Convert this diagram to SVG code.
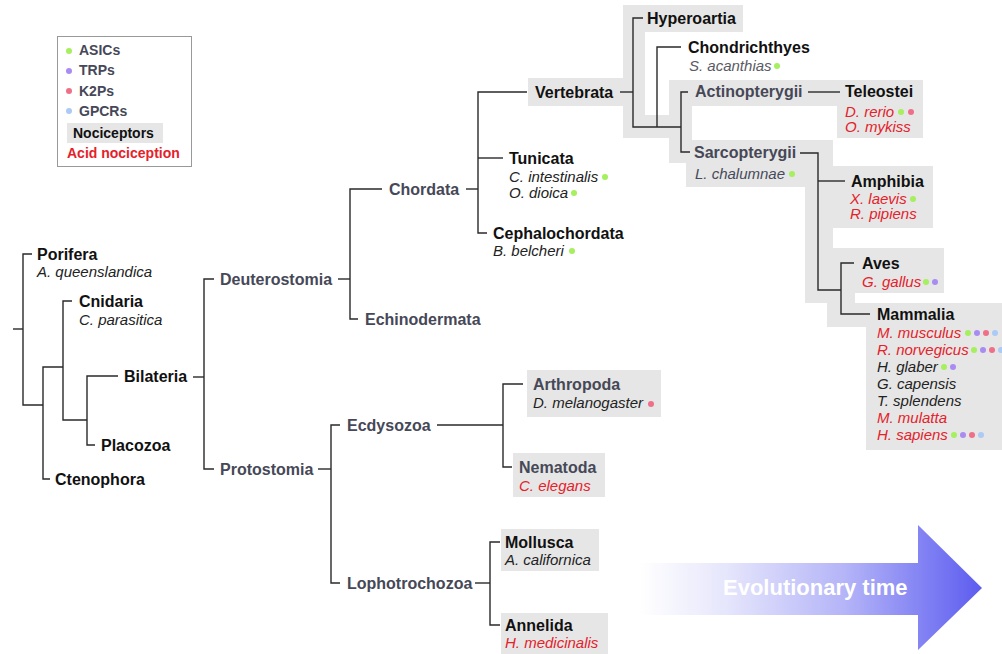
<svg xmlns="http://www.w3.org/2000/svg" width="1002" height="654" viewBox="0 0 1002 654">
<defs>
<style>
.b{font:bold 16px "Liberation Sans",Arial,sans-serif;fill:#111}
.s{font:bold 16px "Liberation Sans",Arial,sans-serif;fill:#464857}
.i{font:italic 15px "Liberation Sans",Arial,sans-serif;fill:#222}
.ig{font:italic 15px "Liberation Sans",Arial,sans-serif;fill:#5a5a64}
.is{font:italic 15px "Liberation Sans",Arial,sans-serif;fill:#474a5a}
.r{font:italic 15px "Liberation Sans",Arial,sans-serif;fill:#e5212a}
.lg{font:bold 14px "Liberation Sans",Arial,sans-serif;fill:#464857}
.lb{font:bold 14px "Liberation Sans",Arial,sans-serif;fill:#111}
.lr{font:bold 14px "Liberation Sans",Arial,sans-serif;fill:#e5212a}
.bg{fill:#e6e6e6}
.ln{stroke:#2a2a2a;stroke-width:1.4;fill:none}
.da{fill:#a6ef5e}.dt{fill:#a98cf2}.dk{fill:#ef6f88}.dg{fill:#abcaf5}
</style>
<linearGradient id="grad" gradientUnits="userSpaceOnUse" x1="640" y1="0" x2="982" y2="0">
<stop offset="0" stop-color="#ffffff"/>
<stop offset="0.25" stop-color="#e6e6fc"/>
<stop offset="0.6" stop-color="#b4b4f8"/>
<stop offset="1" stop-color="#5c5cf0"/>
</linearGradient>
</defs>
<rect width="1002" height="654" fill="#fff"/>

<g id="vertebrate-background">
<rect class="bg" x="528" y="78" width="95" height="28"/>
<rect class="bg" x="623" y="5" width="120" height="27"/>
<rect class="bg" x="623" y="5" width="22" height="133"/>
<rect class="bg" x="623" y="115" width="69" height="23"/>
<rect class="bg" x="669" y="80" width="254" height="26"/>
<rect class="bg" x="837" y="80" width="86" height="58"/>
<rect class="bg" x="669" y="80" width="23" height="60"/>
<rect class="bg" x="669" y="140" width="164" height="23"/>
<rect class="bg" x="686" y="163" width="119" height="24"/>
<rect class="bg" x="805" y="140" width="28" height="163"/>
<rect class="bg" x="833" y="166" width="100" height="62"/>
<rect class="bg" x="833" y="248" width="111" height="45"/>
<rect class="bg" x="805" y="293" width="50" height="10"/>
<rect class="bg" x="827" y="303" width="175" height="24"/>
<rect class="bg" x="866" y="303" width="136" height="147"/>
</g>

<g id="legend">
<rect x="57.5" y="36.5" width="134" height="130" fill="#fff" stroke="#999" stroke-width="1"/>
<circle class="da" cx="69" cy="51" r="3"/><text class="lg" x="79" y="55">ASICs</text>
<circle class="dt" cx="69" cy="71" r="3"/><text class="lg" x="79" y="75">TRPs</text>
<circle class="dk" cx="69" cy="91" r="3"/><text class="lg" x="79" y="96">K2Ps</text>
<circle class="dg" cx="69" cy="111" r="3"/><text class="lg" x="79" y="116">GPCRs</text>
<rect class="bg" x="67" y="123" width="96" height="20"/>
<text class="lb" x="73" y="138">Nociceptors</text>
<text class="lr" x="67" y="158">Acid nociception</text>
</g>

<g id="connectors">
<path class="ln" d="M13,329 H23"/>
<path class="ln" d="M32,254 H23 V405 H43"/>
<path class="ln" d="M50,479 H43 V367 H63"/>
<path class="ln" d="M72,301 H63 V420 H87"/>
<path class="ln" d="M118,376 H87 V445 H95"/>
<path class="ln" d="M193,377 H204"/>
<path class="ln" d="M214,279 H204 V469 H214"/>
<path class="ln" d="M338,279 H350"/>
<path class="ln" d="M382,189 H350 V319 H358"/>
<path class="ln" d="M466,189 H478"/>
<path class="ln" d="M527,92 H478 V233 H487"/>
<path class="ln" d="M478,158 H503"/>
<path class="ln" d="M620,92 H633"/>
<path class="ln" d="M643,18 H633 V127 H681"/>
<path class="ln" d="M681,47 H657 V127"/>
<path class="ln" d="M688,92 H681 V152 H690"/>
<path class="ln" d="M808,92 H840"/>
<path class="ln" d="M800,153 H818 V290 H841"/>
<path class="ln" d="M845,181 H818"/>
<path class="ln" d="M854,263 H841 V314 H870"/>
<path class="ln" d="M318,469 H331"/>
<path class="ln" d="M340,425 H331 V583 H340"/>
<path class="ln" d="M437,425 H503"/>
<path class="ln" d="M523,384 H503 V467 H512"/>
<path class="ln" d="M475,583 H490"/>
<path class="ln" d="M500,542 H490 V625 H500"/>
</g>

<g id="porifera"><text class="b" x="37" y="260">Porifera</text><text class="i" x="37" y="277">A. queenslandica</text></g>
<g id="cnidaria"><text class="b" x="79" y="307">Cnidaria</text><text class="i" x="79" y="325">C. parasitica</text></g>
<g id="bilateria"><text class="b" x="124" y="382">Bilateria</text></g>
<g id="placozoa"><text class="b" x="101" y="451">Placozoa</text></g>
<g id="ctenophora"><text class="b" x="55" y="485">Ctenophora</text></g>
<g id="deuterostomia"><text class="s" x="220" y="285">Deuterostomia</text></g>
<g id="protostomia"><text class="s" x="220" y="475">Protostomia</text></g>
<g id="chordata"><text class="s" x="389" y="195">Chordata</text></g>
<g id="echinodermata"><text class="s" x="365" y="325">Echinodermata</text></g>
<g id="vertebrata"><text class="b" x="535" y="98">Vertebrata</text></g>
<g id="tunicata"><text class="b" x="509" y="164">Tunicata</text>
<text class="i" x="509" y="182">C. intestinalis</text><circle class="da" cx="605" cy="177" r="3"/>
<text class="i" x="509" y="198">O. dioica</text><circle class="da" cx="574" cy="193" r="3"/></g>
<g id="cephalochordata"><text class="b" x="493" y="239">Cephalochordata</text>
<text class="i" x="493" y="256">B. belcheri</text><circle class="da" cx="572" cy="251" r="3"/></g>
<g id="hyperoartia"><text class="b" x="647" y="24">Hyperoartia</text></g>
<g id="chondrichthyes"><text class="b" x="688" y="53">Chondrichthyes</text>
<text class="ig" x="689" y="71">S. acanthias</text><circle class="da" cx="777" cy="66" r="3"/></g>
<g id="actinopterygii"><text class="s" x="695" y="97">Actinopterygii</text></g>
<g id="teleostei"><text class="b" x="845" y="97">Teleostei</text>
<text class="r" x="845" y="117">D. rerio</text><circle class="da" cx="901" cy="112" r="3"/><circle class="dk" cx="911" cy="112" r="3"/>
<text class="r" x="845" y="132">O. mykiss</text></g>
<g id="sarcopterygii"><text class="s" x="694" y="158">Sarcopterygii</text>
<text class="is" x="695" y="179">L. chalumnae</text><circle class="da" cx="792" cy="174" r="3"/></g>
<g id="amphibia"><text class="b" x="851" y="187">Amphibia</text>
<text class="r" x="850" y="204">X. laevis</text><circle class="da" cx="913" cy="199" r="3"/>
<text class="r" x="850" y="219">R. pipiens</text></g>
<g id="aves"><text class="b" x="862" y="269">Aves</text>
<text class="r" x="862" y="287">G. gallus</text><circle class="da" cx="926" cy="282" r="3"/><circle class="dt" cx="935" cy="282" r="3"/></g>
<g id="mammalia"><text class="b" x="877" y="320">Mammalia</text>
<text class="r" x="877" y="338">M. musculus</text><circle class="da" cx="968" cy="333" r="3"/><circle class="dt" cx="977" cy="333" r="3"/><circle class="dk" cx="986" cy="333" r="3"/><circle class="dg" cx="995" cy="333" r="3"/>
<text class="r" x="877" y="355">R. norvegicus</text><circle class="da" cx="974" cy="350" r="3"/><circle class="dt" cx="983" cy="350" r="3"/><circle class="dk" cx="992" cy="350" r="3"/><circle class="dg" cx="1001" cy="350" r="3"/>
<text class="i" x="877" y="372">H. glaber</text><circle class="da" cx="944" cy="367" r="3"/><circle class="dt" cx="953" cy="367" r="3"/>
<text class="i" x="877" y="389">G. capensis</text>
<text class="i" x="877" y="406">T. splendens</text>
<text class="r" x="877" y="423">M. mulatta</text>
<text class="r" x="877" y="440">H. sapiens</text><circle class="da" cx="954" cy="435" r="3"/><circle class="dt" cx="963" cy="435" r="3"/><circle class="dk" cx="972" cy="435" r="3"/><circle class="dg" cx="981" cy="435" r="3"/></g>
<g id="ecdysozoa"><text class="s" x="347" y="431">Ecdysozoa</text></g>
<g id="lophotrochozoa"><text class="s" x="347" y="589">Lophotrochozoa</text></g>
<g id="arthropoda"><rect class="bg" x="527" y="370" width="134" height="47"/><text class="s" x="533" y="390">Arthropoda</text>
<text class="i" x="533" y="408">D. melanogaster</text><circle class="dk" cx="651" cy="404" r="3"/></g>
<g id="nematoda"><rect class="bg" x="513" y="453" width="92" height="44"/><text class="s" x="519" y="473">Nematoda</text>
<text class="r" x="519" y="491">C. elegans</text></g>
<g id="mollusca"><rect class="bg" x="501" y="529" width="98" height="42"/><text class="b" x="505" y="548">Mollusca</text>
<text class="i" x="505" y="565">A. californica</text></g>
<g id="annelida"><rect class="bg" x="501" y="613" width="107" height="41"/><text class="b" x="505" y="631">Annelida</text>
<text class="r" x="505" y="648">H. medicinalis</text></g>

<g id="time-arrow">
<path d="M640,563 H918 V525 L982,588 L918,650 V615 H640 Z" fill="url(#grad)"/>
<text x="723" y="595" style="font:bold 22px 'Liberation Sans',Arial,sans-serif;fill:#fff">Evolutionary time</text>
</g>
</svg>
